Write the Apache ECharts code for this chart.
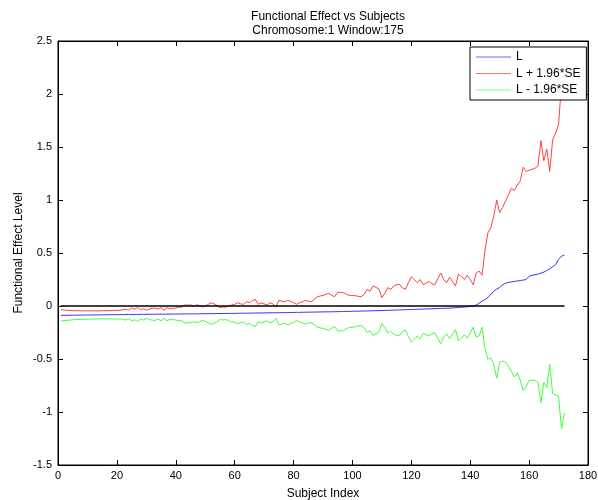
<!DOCTYPE html>
<html><head><meta charset="utf-8">
<script src="https://cdn.jsdelivr.net/npm/echarts@6/dist/echarts.min.js"></script>
<style>html,body{margin:0;padding:0;background:#fff}#c{width:598px;height:500px}</style>
</head><body><div id="c"></div>
<script>
var titleLines = ['Functional Effect vs Subjects', 'Chromosome:1 Window:175'];
var xTicks = [0, 20, 40, 60, 80, 100, 120, 140, 160, 180];
var yTicks = [-1.5, -1, -0.5, 0, 0.5, 1, 1.5, 2, 2.5];
var seriesNames = ['L', 'L + 1.96*SE', 'L - 1.96*SE'];
var L = [
-0.088,-0.088,-0.087,-0.087,-0.087,-0.086,-0.086,-0.086,-0.085,-0.085,
-0.085,-0.084,-0.084,-0.084,-0.083,-0.083,-0.083,-0.082,-0.082,-0.082,
-0.081,-0.081,-0.081,-0.080,-0.080,-0.080,-0.080,-0.079,-0.079,-0.079,
-0.078,-0.078,-0.078,-0.077,-0.077,-0.077,-0.077,-0.076,-0.076,-0.076,
-0.075,-0.075,-0.075,-0.075,-0.074,-0.074,-0.074,-0.073,-0.073,-0.073,
-0.072,-0.072,-0.072,-0.071,-0.071,-0.071,-0.070,-0.070,-0.070,-0.069,
-0.069,-0.068,-0.068,-0.068,-0.067,-0.067,-0.066,-0.066,-0.066,-0.065,
-0.065,-0.064,-0.064,-0.064,-0.063,-0.063,-0.062,-0.062,-0.061,-0.061,
-0.060,-0.060,-0.059,-0.059,-0.058,-0.058,-0.057,-0.057,-0.056,-0.056,
-0.055,-0.055,-0.054,-0.054,-0.053,-0.053,-0.052,-0.051,-0.051,-0.050,
-0.049,-0.049,-0.048,-0.047,-0.047,-0.046,-0.045,-0.044,-0.044,-0.043,
-0.042,-0.041,-0.040,-0.039,-0.038,-0.037,-0.036,-0.035,-0.034,-0.033,
-0.032,-0.031,-0.030,-0.029,-0.028,-0.027,-0.026,-0.025,-0.024,-0.023,
-0.022,-0.021,-0.020,-0.018,-0.016,-0.014,-0.012,-0.010,-0.007,-0.004,
0.000,0.008,0.025,0.045,0.060,0.080,0.110,0.140,0.160,0.175,
0.200,0.215,0.222,0.228,0.232,0.236,0.240,0.245,0.250,0.280,
0.290,0.295,0.300,0.310,0.320,0.335,0.350,0.370,0.390,0.440,
0.470,0.480];
var upper = [
-0.035,-0.038,-0.040,-0.042,-0.043,-0.045,-0.044,-0.046,-0.045,-0.047,
-0.046,-0.045,-0.047,-0.046,-0.044,-0.045,-0.043,-0.044,-0.042,-0.040,
-0.041,-0.035,-0.030,-0.038,-0.020,-0.030,-0.015,-0.035,-0.025,-0.040,
-0.030,-0.022,-0.020,-0.030,-0.015,-0.040,-0.015,-0.025,-0.022,-0.020,
-0.010,-0.012,0.010,0.008,0.010,0.000,0.010,0.005,-0.010,0.000,
0.015,0.030,0.020,0.005,-0.015,-0.010,-0.012,0.000,0.010,0.015,
0.031,0.020,0.016,0.040,0.031,0.050,0.063,0.016,0.030,0.020,
0.009,0.031,0.020,-0.010,0.053,0.045,0.040,0.053,0.045,0.031,
0.016,0.030,0.040,0.053,0.045,0.040,0.063,0.085,0.094,0.100,
0.110,0.120,0.100,0.088,0.130,0.128,0.126,0.110,0.100,0.100,
0.098,0.090,0.088,0.110,0.157,0.140,0.188,0.175,0.160,0.079,
0.120,0.173,0.157,0.188,0.200,0.204,0.170,0.157,0.220,0.276,
0.250,0.220,0.250,0.200,0.215,0.230,0.210,0.200,0.260,0.310,
0.250,0.220,0.270,0.230,0.190,0.300,0.280,0.250,0.290,0.250,
0.200,0.310,0.330,0.290,0.520,0.690,0.740,0.850,1.000,0.880,
0.930,0.990,1.050,1.110,1.090,1.140,1.180,1.310,1.270,1.280,
1.290,1.300,1.320,1.560,1.370,1.480,1.270,1.570,1.630,1.710,
2.100,1.970];
var lower = [
-0.140,-0.138,-0.135,-0.133,-0.130,-0.128,-0.128,-0.126,-0.125,-0.124,
-0.124,-0.123,-0.121,-0.122,-0.122,-0.121,-0.123,-0.120,-0.122,-0.124,
-0.121,-0.127,-0.132,-0.122,-0.140,-0.130,-0.145,-0.123,-0.133,-0.118,
-0.126,-0.134,-0.136,-0.124,-0.139,-0.114,-0.139,-0.127,-0.130,-0.132,
-0.140,-0.138,-0.160,-0.158,-0.158,-0.148,-0.158,-0.151,-0.136,-0.146,
-0.159,-0.174,-0.164,-0.147,-0.127,-0.132,-0.128,-0.140,-0.150,-0.153,
-0.169,-0.156,-0.152,-0.176,-0.165,-0.184,-0.195,-0.148,-0.162,-0.150,
-0.139,-0.159,-0.148,-0.118,-0.179,-0.171,-0.164,-0.177,-0.167,-0.153,
-0.136,-0.150,-0.158,-0.171,-0.161,-0.156,-0.177,-0.199,-0.206,-0.212,
-0.220,-0.230,-0.208,-0.196,-0.236,-0.234,-0.230,-0.212,-0.202,-0.200,
-0.196,-0.188,-0.184,-0.204,-0.251,-0.232,-0.278,-0.263,-0.248,-0.165,
-0.204,-0.255,-0.237,-0.266,-0.276,-0.278,-0.242,-0.227,-0.288,-0.342,
-0.314,-0.282,-0.310,-0.258,-0.271,-0.284,-0.262,-0.250,-0.308,-0.356,
-0.294,-0.262,-0.310,-0.266,-0.222,-0.328,-0.304,-0.270,-0.304,-0.258,
-0.200,-0.294,-0.280,-0.200,-0.400,-0.500,-0.490,-0.550,-0.680,-0.530,
-0.520,-0.530,-0.570,-0.620,-0.670,-0.630,-0.700,-0.800,-0.760,-0.700,
-0.700,-0.700,-0.720,-0.910,-0.720,-0.770,-0.550,-0.830,-0.840,-0.850,
-1.160,-1.010];
var zeroLine = [[1, 0], [172, 0]];

function pairs(arr) { return arr.map(function (v, i) { return [i + 1, v]; }); }

var chart = echarts.init(document.getElementById('c'));
var font = 'Liberation Sans, Arial, Helvetica, sans-serif';
function axisCommon() {
  return {
    axisLine: { show: true, onZero: false, lineStyle: { color: '#000', width: 1 } },
    axisTick: { show: true, inside: true, length: 5, lineStyle: { color: '#000' } },
    splitLine: { show: false }
  };
}
chart.setOption({
  animation: false,
  backgroundColor: '#fff',
  title: {
    text: titleLines[0] + '\n' + titleLines[1],
    left: 323, textAlign: 'center', top: 5,
    textStyle: { fontFamily: font, fontSize: 12, fontWeight: 'normal', color: '#000', lineHeight: 14 }
  },
  grid: { left: 58, right: 10, top: 41, bottom: 35, show: true, borderColor: '#000', borderWidth: 1,
    backgroundColor: '#fff', containLabel: false, outerBoundsMode: 'none' },
  legend: {
    orient: 'vertical', left: 470, top: 47,
    padding: [4, 6, 4, 6], itemGap: 4.5,
    borderColor: '#000', borderWidth: 1, backgroundColor: '#fff',
    itemWidth: 35, itemHeight: 1, icon: 'rect',
    data: seriesNames,
    textStyle: { fontFamily: font, fontSize: 12, color: '#000' }
  },
  xAxis: [
    Object.assign({ type: 'value', min: xTicks[0], max: xTicks[xTicks.length - 1], interval: 20,
      name: 'Subject Index', nameLocation: 'middle', nameGap: 23, nameMoveOverlap: false,
      nameTextStyle: { fontFamily: font, fontSize: 12, color: '#000' },
      axisLabel: { fontFamily: font, fontSize: 11, color: '#000', margin: 5 } }, axisCommon()),
    Object.assign({ type: 'value', position: 'top', min: xTicks[0], max: xTicks[xTicks.length - 1], interval: 20,
      axisLabel: { show: false } }, axisCommon())
  ],
  yAxis: [
    Object.assign({ type: 'value', min: yTicks[0], max: yTicks[yTicks.length - 1], interval: 0.5,
      name: 'Functional Effect Level', nameLocation: 'middle', nameGap: 33, nameMoveOverlap: false,
      nameTextStyle: { fontFamily: font, fontSize: 12, color: '#000' },
      axisLabel: { fontFamily: font, fontSize: 11, color: '#000', margin: 6 } }, axisCommon()),
    Object.assign({ type: 'value', position: 'right', min: yTicks[0], max: yTicks[yTicks.length - 1], interval: 0.5,
      axisLabel: { show: false } }, axisCommon())
  ],
  series: [
    { name: seriesNames[0], type: 'line', data: pairs(L), showSymbol: false, symbol: 'none',
      lineStyle: { color: '#3333ff', width: 1 }, itemStyle: { color: '#6666ff' }, z: 3 },
    { name: seriesNames[1], type: 'line', data: pairs(upper), showSymbol: false, symbol: 'none',
      lineStyle: { color: '#ff4040', width: 1 }, itemStyle: { color: '#ff7070' }, z: 2 },
    { name: seriesNames[2], type: 'line', data: pairs(lower), showSymbol: false, symbol: 'none',
      lineStyle: { color: '#40ff40', width: 1 }, itemStyle: { color: '#80ff80' }, z: 2 },
    { name: 'zero', type: 'line', data: zeroLine, showSymbol: false, symbol: 'none',
      lineStyle: { color: '#000', width: 1.5 }, z: 4 }
  ]
});
</script></body></html>
